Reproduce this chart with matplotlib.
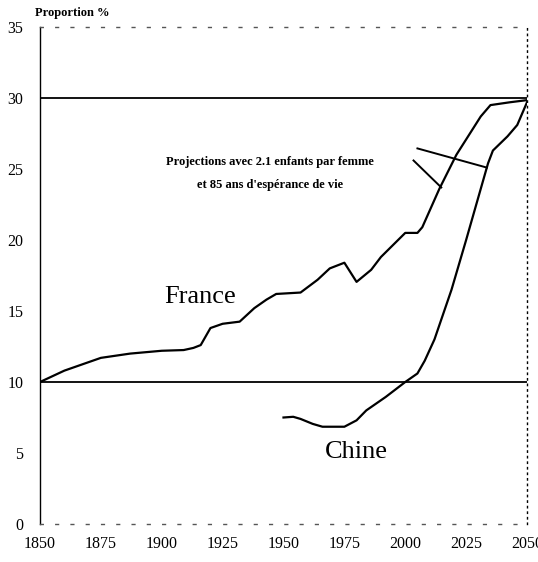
import matplotlib
matplotlib.use('Agg')
import matplotlib.pyplot as plt

plt.rcParams['font.family'] = ['Liberation Serif', 'DejaVu Serif']

# France: share of people aged 60+ (%), history and projection
FRANCE_YEARS = [1850, 1860, 1870, 1875, 1887, 1900, 1909, 1913, 1916, 1920,
                1925, 1932, 1938, 1943, 1947, 1957, 1964, 1969, 1975, 1980,
                1986, 1990, 2000, 2005, 2007, 2014, 2021, 2031, 2035, 2043,
                2050]
FRANCE_VALUES = [10.0, 10.8, 11.4, 11.7, 12.0, 12.2, 12.25, 12.4, 12.6, 13.8,
                 14.1, 14.25, 15.2, 15.8, 16.2, 16.3, 17.2, 18.0, 18.4, 17.05,
                 17.9, 18.8, 20.5, 20.5, 20.9, 23.6, 26.0, 28.7, 29.5, 29.7,
                 29.85]

# Chine
CHINA_YEARS = [1950, 1954, 1957, 1962, 1966, 1975, 1980, 1984, 1992, 2000,
               2005, 2008, 2012, 2019, 2025, 2030, 2034, 2036, 2042, 2046,
               2050]
CHINA_VALUES = [7.5, 7.55, 7.4, 7.05, 6.85, 6.85, 7.3, 8.0, 8.95, 10.0,
                10.6, 11.5, 13.0, 16.5, 20.0, 23.0, 25.4, 26.3, 27.3, 28.1,
                29.7]

X_TICKS = [1850, 1875, 1900, 1925, 1950, 1975, 2000, 2025, 2050]
Y_TICKS = [0, 5, 10, 15, 20, 25, 30, 35]
REF_LEVELS = [30, 10]

# leader lines of the projection note: (x0, y0, x1, y1)
NOTE_LINES = [(2005.0, 26.45, 2033.5, 25.1),
              (2003.4, 25.6, 2014.8, 23.7)]

fig = plt.figure(figsize=(5.38, 5.62), dpi=100)
ax = fig.add_axes([40 / 538, 38 / 562, 487 / 538, 497 / 562])

for lvl in REF_LEVELS:
    ax.axhline(lvl, color='black', lw=1.3, zorder=1)

ax.plot(FRANCE_YEARS, FRANCE_VALUES, color='black', lw=1.6)
ax.plot(CHINA_YEARS, CHINA_VALUES, color='black', lw=1.6)

for x0, y0, x1, y1 in NOTE_LINES:
    ax.plot([x0, x1], [y0, y1], color='black', lw=1.4)

ax.text(1944.5, 25.5, 'Projections avec 2.1 enfants par femme',
        ha='center', va='center', fontsize=9, fontweight='bold')
ax.text(1944.5, 23.85, "et 85 ans d'espérance de vie",
        ha='center', va='center', fontsize=9, fontweight='bold')

ax.text(1901, 16.0, 'France', ha='left', va='center', fontsize=19)
ax.text(1967, 5.05, 'Chine', ha='left', va='center', fontsize=19)

fig.text(35 / 538, 1 - 13 / 562, 'Proportion %', ha='left', va='center',
         fontsize=9, fontweight='bold')

ax.set_xlim(1850, 2050)
ax.set_ylim(0, 35)
ax.set_xticks(X_TICKS)
ax.set_yticks(Y_TICKS)
ax.tick_params(length=0, labelsize=11.5)
ax.tick_params(axis='x', pad=9)
ax.tick_params(axis='y', pad=12)

ax.spines['left'].set_linestyle((0, (5, 1)))
ax.spines['left'].set_linewidth(1.0)
ax.spines['right'].set_linestyle((0, (1, 3)))
ax.spines['right'].set_linewidth(1.0)
for side in ('top', 'bottom'):
    ax.spines[side].set_linestyle((0, (2, 9)))
    ax.spines[side].set_color('#555555')
    ax.spines[side].set_linewidth(1.0)

fig.savefig('out.png', dpi=100)
